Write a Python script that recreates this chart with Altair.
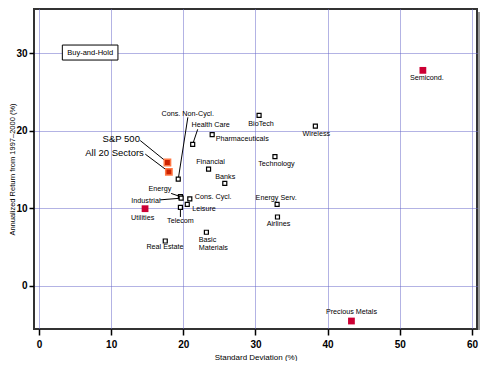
import altair as alt
import pandas as pd

# ---------------- data ----------------
names = ["Semicond.", "Precious Metals", "Wireless", "BioTech", "Technology",
         "Energy Serv.", "Airlines", "Pharmaceuticals", "Health Care", "Financial",
         "Banks", "Cons. Non-Cycl.", "Energy", "Industrial", "Cons. Cycl.",
         "Leisure", "Telecom", "Utilities", "Real Estate", "Basic Materials",
         "S&P 500", "All 20 Sectors"]
std_dev = [53.2, 43.3, 38.3, 30.5, 32.7,
           33.0, 33.05, 24.0, 21.3, 23.5,
           25.75, 19.3, 19.6, 19.7, 20.9,
           20.55, 19.6, 14.7, 17.5, 23.2,
           17.8, 18.0]
ann_return = [27.8, -4.56, 20.6, 22.0, 16.65,
              10.5, 8.87, 19.5, 18.25, 15.06,
              13.2, 13.77, 11.5, 11.3, 11.2,
              10.5, 10.1, 9.94, 5.77, 6.9,
              15.9, 14.7]
group = ["highlight", "highlight", "sector", "sector", "sector",
         "sector", "sector", "sector", "sector", "sector",
         "sector", "sector", "sector", "sector", "sector",
         "sector", "sector", "highlight", "sector", "sector",
         "benchmark", "benchmark"]

x_ticks = [0, 10, 20, 30, 40, 50, 60]
y_ticks = [0, 10, 20, 30]
x_title = "Standard Deviation (%)"
y_title = "Annualized Return from 1997\u20132000 (%)"
box_text = "Buy-and-Hold"
box_at = (7.09, 30.1)

# ---------------- layout / style ----------------
W, H = 443, 320
XD = [-0.69, 60.7]
YD = [-5.59, 35.72]
kx = W / (XD[1] - XD[0])
ky = H / (YD[1] - YD[0])
FONT = "Liberation Sans"

# label: (text, point, align, dx px, dy px, font size)
label_style = [
    ("Semicond.", "Semicond.", "center", 4, 8, 7.2),
    ("Precious Metals", "Precious Metals", "center", 0, -9, 7.2),
    ("Wireless", "Wireless", "center", 1, 7.5, 7.2),
    ("BioTech", "BioTech", "center", 2, 8.5, 7.2),
    ("Technology", "Technology", "center", 1.5, 7.5, 7.2),
    ("Energy Serv.", "Energy Serv.", "center", -1, -6.5, 7.2),
    ("Airlines", "Airlines", "center", 1, 7, 7.2),
    ("Pharmaceuticals", "Pharmaceuticals", "left", 3.5, 4, 7.2),
    ("Health Care", "Health Care", "center", 18, -19, 7.2),
    ("Financial", "Financial", "center", 2, -7.5, 7.2),
    ("Banks", "Banks", "center", 0.5, -6.5, 7.2),
    ("Cons. Non-Cycl.", "Cons. Non-Cycl.", "center", 9.5, -65.5, 7.2),
    ("Energy", "Energy", "center", -20.5, -7.2, 7.2),
    ("Industrial", "Industrial", "center", -35.2, 2.4, 7.2),
    ("Cons. Cycl.", "Cons. Cycl.", "left", 5, -2.3, 7.2),
    ("Leisure", "Leisure", "left", 5, 4.4, 7.2),
    ("Telecom", "Telecom", "center", 0, 13.4, 7.2),
    ("Utilities", "Utilities", "center", -2.4, 9, 7.2),
    ("Real Estate", "Real Estate", "center", -0.3, 6.3, 7.2),
    ("Basic", "Basic Materials", "left", -7.7, 7.3, 7.2),
    ("Materials", "Basic Materials", "left", -7.7, 15.3, 7.2),
    ("S&P 500", "S&P 500", "right", -27.5, -23.4, 9.5),
    ("All 20 Sectors", "All 20 Sectors", "right", -25, -19, 9.5),
]
# leader lines: (point, end dx px, end dy px)
leader_style = [
    ("Cons. Non-Cycl.", 9.6, -61.7),
    ("Health Care", 5, -15),
    ("Energy", -9.3, -3.2),
    ("Industrial", -21, 1.7),
    ("Telecom", 0, 9.5),
    ("S&P 500", -27.2, -22),
    ("All 20 Sectors", -23.6, -17.7),
]

pts = pd.DataFrame({"name": names, "sd": std_dev, "ret": ann_return, "group": group})
pos = {n: (x, y) for n, x, y in zip(names, std_dev, ann_return)}

lab_rows = []
for text, p, align, dx, dy, fs in label_style:
    x0, y0 = pos[p]
    lab_rows.append({"text": text, "lx": x0 + dx / kx, "ly": y0 - dy / ky,
                     "align": align, "fs": fs})
labs = pd.DataFrame(lab_rows)

lead_rows = []
for p, dx, dy in leader_style:
    x0, y0 = pos[p]
    lead_rows.append({"x": x0, "y": y0, "x2": x0 + dx / kx, "y2": y0 - dy / ky})
leads = pd.DataFrame(lead_rows)

bw, bh = 55.6, 15
box = pd.DataFrame([{
    "text": box_text, "x": box_at[0], "y": box_at[1],
    "bx": box_at[0] - bw / 2 / kx, "bx2": box_at[0] + bw / 2 / kx,
    "by": box_at[1] - bh / 2 / ky, "by2": box_at[1] + bh / 2 / ky,
}])

xs = alt.Scale(domain=XD, nice=False, zero=False)
ys = alt.Scale(domain=YD, nice=False, zero=False)

x_axis = alt.Axis(values=x_ticks, title=x_title, grid=True, domain=False,
                  tickSize=6, tickWidth=1.5, tickColor="#000",
                  labelFont=FONT, labelFontSize=10, labelFontWeight="bold",
                  labelPadding=4, labelColor="#000",
                  titleFont=FONT, titleFontSize=8, titleFontWeight="normal",
                  titleColor="#000", titleY=30, titleBaseline="alphabetic")
y_axis = alt.Axis(values=y_ticks, title=y_title, grid=True, domain=False,
                  tickSize=5, tickWidth=1.5, tickColor="#000",
                  labelFont=FONT, labelFontSize=10, labelFontWeight="bold",
                  labelPadding=2, labelColor="#000",
                  titleFont=FONT, titleFontSize=7.5, titleFontWeight="normal",
                  titleColor="#000", titleX=-21.5, titleY=160,
                  titleAlign="center", titleBaseline="middle", titleAngle=-90)

base = alt.Chart(pts).encode(
    x=alt.X("sd:Q", scale=xs, axis=x_axis),
    y=alt.Y("ret:Q", scale=ys, axis=y_axis),
)

lines = alt.Chart(leads).mark_rule(color="#000", strokeWidth=1).encode(
    x=alt.X("x:Q", scale=xs), y=alt.Y("y:Q", scale=ys),
    x2="x2:Q", y2="y2:Q")

hollow = base.transform_filter(alt.datum.group == "sector").mark_point(
    shape="square", filled=True, fill="#ffffff", stroke="#000",
    strokeWidth=1.2, size=16, opacity=1)
red = base.transform_filter(alt.datum.group == "highlight").mark_point(
    shape="square", filled=True, color="#cc0033", size=46, opacity=1)
bench = base.transform_filter(alt.datum.group == "benchmark").mark_point(
    shape="square", filled=True, fill="#cc2200", stroke="#ff7744",
    strokeWidth=1.5, size=40, opacity=1)

text_layers = []
for al in ["center", "left", "right"]:
    text_layers.append(
        alt.Chart(labs).transform_filter(alt.datum.align == al).mark_text(
            align=al, baseline="middle", font=FONT, color="#000").encode(
            x=alt.X("lx:Q", scale=xs), y=alt.Y("ly:Q", scale=ys),
            text="text:N", size=alt.Size("fs:Q", scale=None, legend=None)))

box_rect = alt.Chart(box).mark_rect(fill="#ffffff", stroke="#000",
                                    strokeWidth=1).encode(
    x=alt.X("bx:Q", scale=xs), x2="bx2:Q",
    y=alt.Y("by:Q", scale=ys), y2="by2:Q")
box_txt = alt.Chart(box).mark_text(font=FONT, fontSize=7.5, color="#000",
                                   baseline="middle").encode(
    x=alt.X("x:Q", scale=xs), y=alt.Y("y:Q", scale=ys), text="text:N")

shadow = alt.Chart(pts).mark_rule(color="#9a9a9a", strokeWidth=2).encode(
    x=alt.value(W + 2), y=alt.value(3), y2=alt.value(H + 1))

chart = alt.layer(base.mark_point(opacity=0), shadow, lines, hollow, red, bench,
                  *text_layers, box_rect, box_txt).properties(
    width=W, height=H,
    autosize=alt.AutoSizeParams(type="none"),
    padding={"left": 26, "top": 1, "right": 12, "bottom": 32},
).configure_view(
    stroke="#333333", strokeWidth=2
).configure_axis(
    gridColor="#6666c8", gridDash=[1, 1], gridWidth=1, gridOpacity=1
)

chart.save("out.html", embed_options={"renderer": "svg", "actions": False})
